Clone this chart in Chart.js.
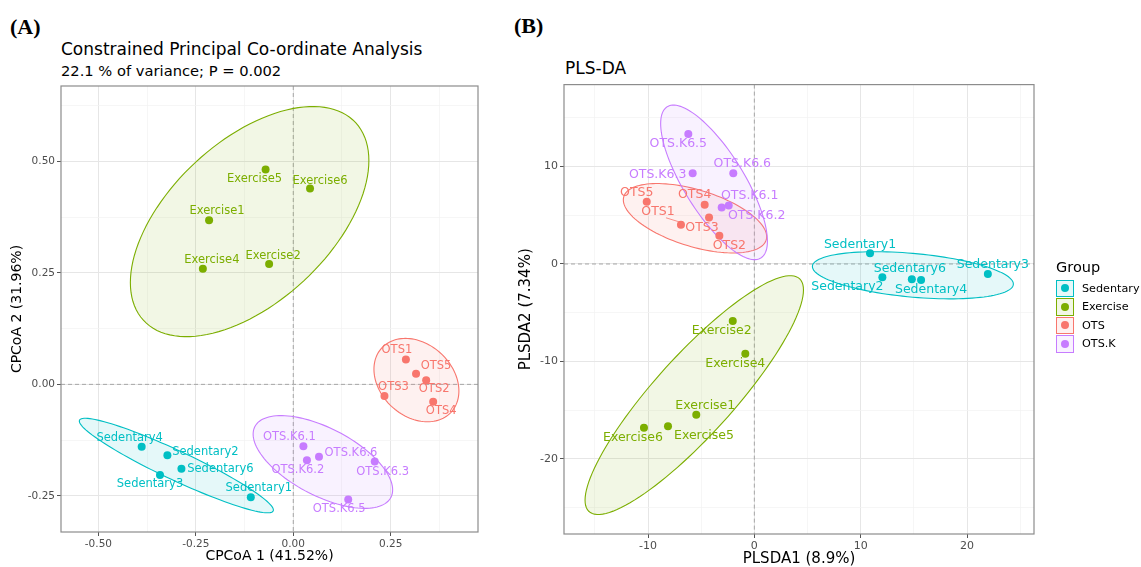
<!DOCTYPE html>
<html>
<head>
<meta charset="utf-8">
<script src="https://cdn.jsdelivr.net/npm/chart.js@4.4.1/dist/chart.umd.min.js"></script>
<style>
  body { margin: 0; width: 1141px; height: 567px; background: #fff; position: relative; overflow: hidden; font-family: "DejaVu Sans", sans-serif; }
  .tag { position: absolute; font-family: "Liberation Serif", serif; font-weight: bold; font-size: 22px; line-height: 1; }
  .title { position: absolute; white-space: nowrap; color: #000; line-height: 1; }
  .box { position: absolute; }
  #legend { position: absolute; left: 1056px; top: 259px; }
  #legend .head { font-size: 14.5px; margin-bottom: 4px; }
  #legend .row { display: flex; align-items: center; height: 18.5px; }
  #legend .key { width: 16px; height: 15.5px; border: 1.5px solid; position: relative; box-sizing: content-box; }
  #legend .key span { position: absolute; left: 4px; top: 3.8px; width: 8px; height: 8px; border-radius: 50%; }
  #legend .lab { font-size: 11.2px; margin-left: 8px; white-space: nowrap; }
</style>
</head>
<body>
<div class="tag" style="left:10px;top:16px">(A)</div>
<div class="tag" style="left:514px;top:15px">(B)</div>
<div class="title" style="left:61px;top:41px;font-size:17px">Constrained Principal Co-ordinate Analysis</div>
<div class="title" style="left:61px;top:64px;font-size:14.7px">22.1 % of variance; P = 0.002</div>
<div class="title" style="left:565px;top:60px;font-size:17px">PLS-DA</div>
<div class="box" style="left:0;top:76px;width:490px;height:491px"><canvas id="chartA"></canvas></div>
<div class="box" style="left:500px;top:76px;width:641px;height:491px"><canvas id="chartB"></canvas></div>
<div id="legend"></div>

<script>
// groups and samples
const groups = ['Sedentary', 'Exercise', 'OTS', 'OTS.K'];
const groupColors = ['#00BFC4', '#7CAE00', '#F8766D', '#C77CFF'];

const samples = ['Sedentary1', 'Sedentary2', 'Sedentary3', 'Sedentary4', 'Sedentary6',
                 'Exercise1', 'Exercise2', 'Exercise4', 'Exercise5', 'Exercise6',
                 'OTS1', 'OTS2', 'OTS3', 'OTS4', 'OTS5',
                 'OTS.K6.1', 'OTS.K6.2', 'OTS.K6.3', 'OTS.K6.5', 'OTS.K6.6'];
const sampleGroup = ['Sedentary', 'Sedentary', 'Sedentary', 'Sedentary', 'Sedentary',
                     'Exercise', 'Exercise', 'Exercise', 'Exercise', 'Exercise',
                     'OTS', 'OTS', 'OTS', 'OTS', 'OTS',
                     'OTS.K', 'OTS.K', 'OTS.K', 'OTS.K', 'OTS.K'];

// (A) CPCoA scores
const cpcoaX = [-0.109, -0.323, -0.342, -0.389, -0.287,
                -0.216, -0.062, -0.232, -0.071, 0.043,
                0.289, 0.341, 0.234, 0.359, 0.315,
                0.026, 0.035, 0.209, 0.141, 0.066];
const cpcoaY = [-0.253, -0.159, -0.203, -0.140, -0.189,
                0.368, 0.270, 0.259, 0.482, 0.439,
                0.056, 0.009, -0.026, -0.039, 0.024,
                -0.139, -0.170, -0.173, -0.258, -0.162];
// confidence ellipses per group: centre, half-extents, correlation
const cpcoaEllCx = [-0.300, -0.112, 0.316, 0.076];
const cpcoaEllCy = [-0.182, 0.365, 0.0096, -0.174];
const cpcoaEllRx = [0.249, 0.306, 0.109, 0.179];
const cpcoaEllRy = [0.106, 0.258, 0.0935, 0.104];
const cpcoaEllR = [-0.94, 0.53, -0.26, -0.6];
const cpcoaXTicks = [-0.5, -0.25, 0, 0.25];
const cpcoaYTicks = [-0.25, 0, 0.25, 0.5];

// (B) PLS-DA scores
const plsdaX = [10.88, 12.04, 21.96, 15.68, 14.81,
                -5.46, -2.03, -0.85, -8.12, -10.38,
                -6.90, -3.29, -4.26, -4.67, -10.12,
                -2.41, -3.07, -5.80, -6.21, -1.98];
const plsdaY = [1.09, -1.37, -1.02, -1.64, -1.57,
                -15.46, -5.84, -9.21, -16.65, -16.79,
                4.02, 2.90, 4.77, 6.07, 6.38,
                6.0, 5.8, 9.31, 13.34, 9.31];
const plsdaEllCx = [14.91, -5.65, -5.58, -3.79];
const plsdaEllCy = [-1.16, -13.45, 4.69, 8.37];
const plsdaEllRx = [9.45, 10.27, 6.74, 5.02];
const plsdaEllRy = [2.42, 12.25, 3.56, 7.93];
const plsdaEllR = [-0.37, 0.88, -0.53, -0.76];
const plsdaXTicks = [-10, 0, 10, 20];
const plsdaYTicks = [-20, -10, 0, 10];

// label nudges (px), same order as samples
const cpcoaNudge = [[8, -9], [38, -3], [-10, 9], [-12, -9], [39, 0],
                    [8, -9], [4, -8], [9, -9], [-11, 10], [10, -8],
                    [-9, -9], [8, 9], [9, -9], [8, 9], [20, -8],
                    [-14, -9], [-9, 10], [8, 10], [-9, 10], [32, -4]];
const plsdaNudge = [[-10, -9], [-35, 9], [5, -9], [10, 10], [-2, -11],
                    [9, -9], [-11, 10], [-10, 10], [36, 9], [-11, 10],
                    [-23, -13], [10, 10], [-7, 10], [-10, -10], [-10, -9],
                    [21, -10], [35, 8], [-35, 2], [-10, 10], [9, -9]];

function rgba(hex, a) {
    const n = parseInt(hex.slice(1), 16);
    return `rgba(${n >> 16},${(n >> 8) & 255},${n & 255},${a})`;
}

function buildDatasets(xs, ys) {
    return groups.map((g, gi) => ({
        label: g,
        data: samples.map((s, i) => ({ x: xs[i], y: ys[i], s: i })).filter(p => sampleGroup[p.s] === g),
        backgroundColor: groupColors[gi],
        borderWidth: 0,
        pointRadius: 4,
        pointHoverRadius: 4
    }));
}

// ellipses, zero lines, frame and sample labels
const decorPlugin = {
    id: 'decor',
    beforeDatasetsDraw(chart, args, opts) {
        const { ctx, chartArea: a, scales: { x, y } } = chart;
        ctx.save();
        ctx.beginPath(); ctx.rect(a.left, a.top, a.width, a.height); ctx.clip();
        ctx.strokeStyle = '#a6a6a6'; ctx.lineWidth = 1; ctx.setLineDash([4, 3]);
        const x0 = x.getPixelForValue(0), y0 = y.getPixelForValue(0);
        ctx.beginPath(); ctx.moveTo(x0, a.top); ctx.lineTo(x0, a.bottom); ctx.stroke();
        ctx.beginPath(); ctx.moveTo(a.left, y0); ctx.lineTo(a.right, y0); ctx.stroke();
        ctx.setLineDash([]);
        const e = opts.ellipse;
        groups.forEach((g, gi) => {
            const s = Math.sqrt(1 - e.r[gi] * e.r[gi]);
            ctx.beginPath();
            for (let k = 0; k <= 120; k++) {
                const t = k / 120 * Math.PI * 2;
                const vx = e.cx[gi] + e.rx[gi] * Math.cos(t);
                const vy = e.cy[gi] + e.ry[gi] * (e.r[gi] * Math.cos(t) + s * Math.sin(t));
                const px = x.getPixelForValue(vx), py = y.getPixelForValue(vy);
                k ? ctx.lineTo(px, py) : ctx.moveTo(px, py);
            }
            ctx.closePath();
            ctx.fillStyle = rgba(groupColors[gi], 0.1);
            ctx.fill();
            ctx.strokeStyle = groupColors[gi];
            ctx.lineWidth = 1.1;
            ctx.stroke();
        });
        ctx.restore();
    },
    afterDatasetsDraw(chart, args, opts) {
        const { ctx, chartArea: a, scales: { x, y } } = chart;
        ctx.save();
        ctx.font = `${opts.labelSize}px "DejaVu Sans"`;
        ctx.textAlign = 'center';
        ctx.textBaseline = 'middle';
        chart.data.datasets.forEach((ds, di) => {
            ctx.fillStyle = groupColors[di];
            ds.data.forEach(p => {
                const px = x.getPixelForValue(p.x), py = y.getPixelForValue(p.y);
                const [dx, dy] = opts.nudge[p.s];
                if (Math.abs(dy) > 12) {
                    ctx.strokeStyle = groupColors[di]; ctx.lineWidth = 0.8;
                    ctx.beginPath(); ctx.moveTo(px - 2, py - 3); ctx.lineTo(px + dx + 8, py + dy + 6); ctx.stroke();
                }
                ctx.fillText(samples[p.s], px + dx, py + dy);
            });
        });
        ctx.strokeStyle = '#8c8c8c'; ctx.lineWidth = 1.2;
        ctx.strokeRect(a.left, a.top, a.width, a.height);
        ctx.restore();
    }
};

function makeAxis(cfg) {
    const all = cfg.major.concat(cfg.minor).sort((p, q) => p - q);
    return {
        type: 'linear',
        position: cfg.pos,
        min: cfg.min,
        max: cfg.max,
        afterBuildTicks: s => { s.ticks = all.map(v => ({ value: v })); },
        afterFit: s => { if (cfg.pos === 'left') s.width = cfg.fit; else s.height = cfg.fit; },
        ticks: {
            autoSkip: false, maxRotation: 0, padding: 2,
            color: '#4d4d4d',
            font: { family: 'DejaVu Sans', size: cfg.tickSize },
            callback: v => cfg.major.includes(v) ? cfg.fmt(v) : ''
        },
        grid: {
            color: c => cfg.major.includes(c.tick && c.tick.value) ? '#e6e6e6' : '#f2f2f2',
            lineWidth: c => cfg.major.includes(c.tick && c.tick.value) ? 1 : 0.7,
            tickColor: c => cfg.major.includes(c.tick && c.tick.value) ? '#555' : 'rgba(0,0,0,0)',
            tickLength: 4
        },
        border: { display: false },
        title: {
            display: true, text: cfg.title, color: '#000',
            font: { family: 'DejaVu Sans', size: cfg.titleSize, lineHeight: 1 },
            padding: cfg.titlePad
        }
    };
}

function makeChart(id, xs, ys, ell, nudge, axes, layoutPad, labelSize) {
    return new Chart(document.getElementById(id), {
        type: 'scatter',
        data: { datasets: buildDatasets(xs, ys) },
        options: {
            responsive: true, maintainAspectRatio: false, animation: false,
            layout: { padding: layoutPad },
            plugins: {
                legend: { display: false }, tooltip: { enabled: false },
                decor: { ellipse: ell, nudge: nudge, labelSize: labelSize }
            },
            scales: { x: makeAxis(axes.x), y: makeAxis(axes.y) }
        },
        plugins: [decorPlugin]
    });
}

makeChart('chartA', cpcoaX, cpcoaY,
    { cx: cpcoaEllCx, cy: cpcoaEllCy, rx: cpcoaEllRx, ry: cpcoaEllRy, r: cpcoaEllR },
    cpcoaNudge,
    {
        x: { pos: 'bottom', min: -0.596, max: 0.474, major: cpcoaXTicks, minor: [-0.375, -0.125, 0.125, 0.375],
             fmt: v => v.toFixed(2), title: 'CPCoA 1 (41.52%)', titleSize: 14, titlePad: { top: 0, bottom: 4 }, tickSize: 10.5, fit: 35 },
        y: { pos: 'left', min: -0.331, max: 0.669, major: cpcoaYTicks, minor: [-0.125, 0.125, 0.375, 0.625],
             fmt: v => v.toFixed(2), title: 'CPCoA 2 (31.96%)', titleSize: 14, titlePad: { top: 10, bottom: 0 }, tickSize: 10.5, fit: 61 }
    },
    { top: 10, right: 12, left: 0, bottom: 0 }, 11.5);

makeChart('chartB', plsdaX, plsdaY,
    { cx: plsdaEllCx, cy: plsdaEllCy, rx: plsdaEllRx, ry: plsdaEllRy, r: plsdaEllR },
    plsdaNudge,
    {
        x: { pos: 'bottom', min: -17.9, max: 26.3, major: plsdaXTicks, minor: [-15, -5, 5, 15, 25],
             fmt: v => String(v), title: 'PLSDA1 (8.9%)', titleSize: 15, titlePad: { top: 0, bottom: 0 }, tickSize: 11, fit: 33 },
        y: { pos: 'left', min: -27.7, max: 18.4, major: plsdaYTicks, minor: [-25, -15, -5, 5, 15],
             fmt: v => String(v), title: 'PLSDA2 (7.34%)', titleSize: 15, titlePad: { top: 19, bottom: 0 }, tickSize: 11, fit: 64 }
    },
    { top: 7, right: 107, left: 0, bottom: 0 }, 12.5);

// legend
document.getElementById('legend').innerHTML = '<div class="head">Group</div>' +
    groups.map((g, gi) => `<div class="row"><div class="key" style="border-color:${groupColors[gi]};background:${rgba(groupColors[gi], 0.1)}"><span style="background:${groupColors[gi]}"></span></div><div class="lab">${g}</div></div>`).join('');
</script>
</body>
</html>
